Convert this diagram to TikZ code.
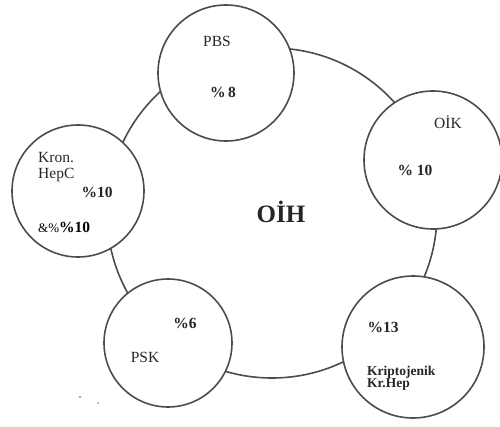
\documentclass[tikz,border=0pt]{standalone}
\usepackage{fontspec}
\setmainfont{Liberation Serif}
\begin{document}
\begin{tikzpicture}[x=1pt,y=-1pt,
  ring/.style={draw=black!70,line width=1.6pt,circle,inner sep=0pt},
  bub/.style={draw=black!70,line width=1.6pt,circle,fill=white,inner sep=0pt},
  lbl/.style={font=\fontsize{15.5}{16}\selectfont,text=black!85,inner sep=0pt},
  blbl/.style={font=\fontsize{15.5}{16}\selectfont\bfseries,text=black!85,inner sep=0pt},
  slbl/.style={font=\fontsize{13.5}{13}\selectfont\bfseries,text=black!85,inner sep=0pt,align=left}]
\useasboundingbox (0,0) rectangle (500,427);
\node[ring,minimum size=330pt] (big) at (272,213) {};
\node[bub,minimum size=136pt] (pbs) at (226,73) {};
\node[bub,minimum size=138pt] (oik) at (433,160) {};
\node[bub,minimum size=132pt] (kron) at (78,191) {};
\node[bub,minimum size=128pt] (psk) at (168,343) {};
\node[bub,minimum size=142pt] (kr) at (413,347) {};
\node[font=\fontsize{25}{26}\selectfont\bfseries,text=black!85] (oih) at (281,212) {OİH};
\node[lbl] (t1) at (217,41) {PBS};
\node[blbl] (t2) at (223,92) {\%\,8};
\node[lbl] (t3) at (448,122) {OİK};
\node[blbl] (t4) at (415,170) {\%\ 10};
\node[lbl,anchor=west] (t5) at (38,158) {Kron.};
\node[lbl,anchor=west] (t6) at (38,175) {HepC};
\node[blbl] (t7) at (97,192) {\%10};
\node[anchor=west,inner sep=0pt] (t8) at (38,227) {{\fontsize{13}{14}\selectfont\&\%}{\fontsize{15.5}{16}\selectfont\bfseries\%10}};
\node[blbl] (t9) at (185,323) {\%6};
\node[lbl] (t10) at (145,357) {PSK};
\node[blbl] (t11) at (383,327) {\%13};
\node[slbl,anchor=west] (t12) at (367,378) {Kriptojenik\\[-1pt]Kr.Hep};
\fill[black!45] (80,397) circle (1.2pt);
\fill[black!35] (98,403) circle (1.1pt);
\end{tikzpicture}
\end{document}
